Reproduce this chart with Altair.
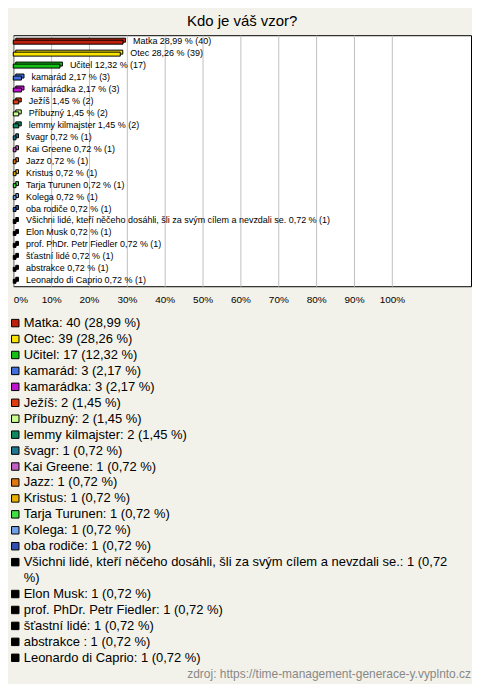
import textwrap
import altair as alt
import pandas as pd

names = [
    "Matka", "Otec", "Učitel", "kamarád", "kamarádka", "Ježíš", "Příbuzný",
    "lemmy kilmajster", "švagr", "Kai Greene", "Jazz", "Kristus", "Tarja Turunen",
    "Kolega", "oba rodiče",
    "Všichni lidé, kteří něčeho dosáhli, šli za svým cílem a nevzdali se.",
    "Elon Musk", "prof. PhDr. Petr Fiedler", "šťastní lidé", "abstrakce ",
    "Leonardo di Caprio",
]
counts = [40, 39, 17, 3, 3, 2, 2, 2, 1, 1, 1, 1, 1, 1, 1, 1, 1, 1, 1, 1, 1]
percents = [28.99, 28.26, 12.32, 2.17, 2.17, 1.45, 1.45, 1.45,
            0.72, 0.72, 0.72, 0.72, 0.72, 0.72, 0.72, 0.72, 0.72, 0.72, 0.72, 0.72, 0.72]
colors = [
    "#c0200a", "#f8e400", "#14c014", "#4070e0", "#c010d0", "#e03c10", "#c8ff90",
    "#108860", "#207890", "#c060c0", "#e07810", "#e8b000", "#40e040", "#70a0e8",
    "#3050b0", "#000000", "#000000", "#000000", "#000000", "#000000", "#000000",
]
tick_values = [0, 10, 20, 30, 40, 50, 60, 70, 80, 90, 100]

title_text = "Kdo je váš vzor?"
source_text = "zdroj: https://time-management-generace-y.vyplnto.cz"

FONT = "Liberation Sans"


def cz(v):
    return f"{v:.2f}".replace(".", ",")


bar_labels = [f"{n} {cz(p)} % ({c})" for n, p, c in zip(names, percents, counts)]
legend_labels = ["\n".join(textwrap.wrap(f"{n}: {c} ({cz(p)} %)", 77))
                 for n, p, c in zip(names, percents, counts)]
line_idx = []
acc = 0
for lab in legend_labels:
    line_idx.append(acc)
    acc += lab.count("\n") + 1
n_lines = acc

df = pd.DataFrame({
    "name": names,
    "count": counts,
    "pct": percents,
    "bar_label": bar_labels,
    "legend_label": legend_labels,
    "line": line_idx,
})

color_enc = alt.Color("name:N", scale=alt.Scale(domain=names, range=colors), legend=None)
y_enc = alt.Y("name:N", sort=names, axis=None,
              scale=alt.Scale(paddingInner=0, paddingOuter=0))
x_scale = alt.Scale(domain=[0, 120.9], nice=False, zero=True)
x_enc = alt.X(
    "pct:Q", scale=x_scale, title=None,
    axis=alt.Axis(values=tick_values, labelExpr="datum.value + '%'", grid=True,
                  gridColor="#c0c0c0", gridWidth=1, domain=False, ticks=False,
                  tickSize=0, labelFontSize=10, labelPadding=8, labelFlush=True,
                  labelOverlap=False, labelColor="#000000", labelFont=FONT),
)

base = alt.Chart(df).encode(x=x_enc, y=y_enc)
back = base.mark_bar(size=4, xOffset=2.5, yOffset=-1, stroke="black",
                     strokeWidth=1, opacity=1).encode(color=color_enc)
front = base.mark_bar(size=4, yOffset=1, stroke="black",
                      strokeWidth=1, opacity=1).encode(color=color_enc)
labels = base.mark_text(align="left", baseline="middle", dx=10, fontSize=9,
                        font=FONT, color="#000000").encode(text="bar_label:N")

bars = alt.layer(back, front, labels).properties(
    width=459.5, height=252,
    view=alt.ViewBackground(fill="white", stroke="black", strokeWidth=1),
    title=alt.TitleParams(title_text, fontSize=15, fontWeight="normal",
                          anchor="middle", offset=6, color="#000000", font=FONT),
)

leg_base = alt.Chart(df).encode(
    y=alt.Y("line:Q", axis=None,
            scale=alt.Scale(domain=[-0.5, n_lines - 0.5], reverse=True,
                            nice=False, zero=False)))
swatch = leg_base.mark_square(size=56, stroke="black", strokeWidth=1,
                              opacity=1, filled=True).encode(
    x=alt.value(2), color=color_enc)
leg_text = leg_base.mark_text(align="left", baseline="line-top", lineBreak="\n",
                              lineHeight=16, fontSize=13, yOffset=-8, font=FONT,
                              color="#000000").encode(
    x=alt.value(10.5), text="legend_label:N")

legend = alt.layer(swatch, leg_text).properties(
    width=459.5, height=16 * n_lines,
    view=alt.ViewBackground(stroke="transparent", fill="transparent"),
    title=alt.TitleParams(source_text, orient="bottom", anchor="end", fontSize=12,
                          fontWeight="normal", color="#888888", offset=3, font=FONT),
)

chart = alt.vconcat(bars, legend, spacing=9).properties(
    padding={"left": 0.3, "top": 4, "right": 0, "bottom": 2},
    background="#f3f2ea",
)

chart.save("out.html", embed_options={"renderer": "svg", "actions": False})
